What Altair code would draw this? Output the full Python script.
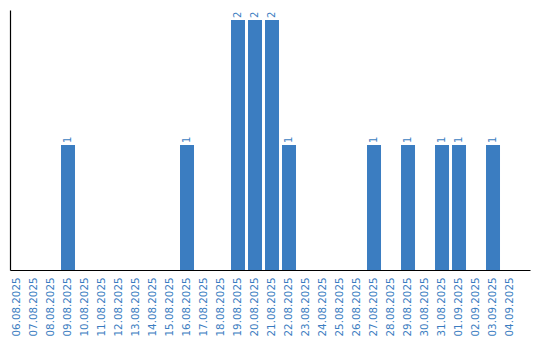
import altair as alt
import pandas as pd

dates = ["06.08.2025", "07.08.2025", "08.08.2025", "09.08.2025", "10.08.2025",
         "11.08.2025", "12.08.2025", "13.08.2025", "14.08.2025", "15.08.2025",
         "16.08.2025", "17.08.2025", "18.08.2025", "19.08.2025", "20.08.2025",
         "21.08.2025", "22.08.2025", "23.08.2025", "24.08.2025", "25.08.2025",
         "26.08.2025", "27.08.2025", "28.08.2025", "29.08.2025", "30.08.2025",
         "31.08.2025", "01.09.2025", "02.09.2025", "03.09.2025", "04.09.2025"]
counts = [0, 0, 0, 1, 0, 0, 0, 0, 0, 0,
          1, 0, 0, 2, 2, 2, 1, 0, 0, 0,
          0, 1, 0, 1, 0, 1, 1, 0, 1, 0]

df = pd.DataFrame({"date": dates, "count": counts})

BLUE = "#3b7dc1"
FONT = "DejaVu Sans"

x = alt.X("date:N", sort=None, title=None,
          scale=alt.Scale(paddingInner=0.1765, paddingOuter=0.382, align=0),
          axis=alt.Axis(labelAngle=270, labelColor=BLUE, labelFont=FONT, labelFontSize=10.3,
                        ticks=False, labelPadding=7, domainColor="#000000",
                        domainWidth=1.2, grid=False, labelAlign="right",
                        labelBaseline="middle"))
y = alt.Y("count:Q", title=None,
          scale=alt.Scale(domain=[0, 2.08], nice=False),
          axis=alt.Axis(labels=False, ticks=False, grid=False,
                        domainColor="#000000", domainWidth=1.2))

bars = alt.Chart(df).mark_bar(color=BLUE).encode(x=x, y=y)
text = alt.Chart(df).transform_filter("datum.count > 0").mark_text(
    angle=270, align="left", baseline="middle", dx=2, color=BLUE,
    font=FONT, fontSize=10
).encode(x=x, y=y, text="count:Q")

chart = (bars + text).properties(
    width=520, height=260,
    autosize=alt.AutoSizeParams(type="none"),
    padding={"left": 10, "top": 10, "right": 10, "bottom": 70},
).configure_view(stroke=None)

chart.save("out.html", embed_options={"renderer": "svg", "actions": False})
